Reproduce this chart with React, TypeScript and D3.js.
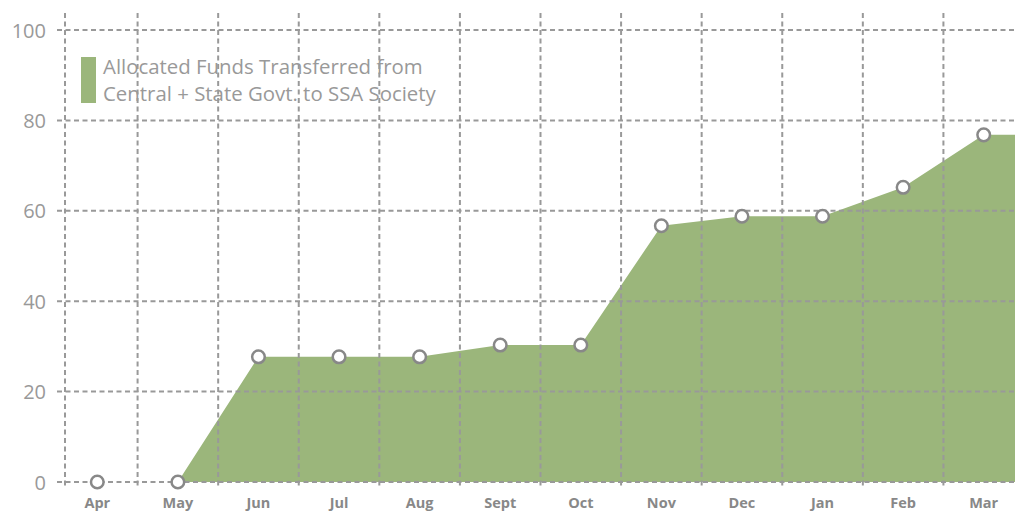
import React from "react";
import * as d3 from "d3";

const months = ["Apr", "May", "Jun", "Jul", "Aug", "Sept", "Oct", "Nov", "Dec", "Jan", "Feb", "Mar"];
const funds = [0, 0, 27.7, 27.7, 27.7, 30.3, 30.3, 56.7, 58.8, 58.8, 65.2, 76.8];
const yTicks = [0, 20, 40, 60, 80, 100];
const legendLines = ["Allocated Funds Transferred from", "Central + State Govt. to SSA Society"];

const W = 1015;
const H = 512;
const GRID = "#999999";
const GREEN = "#9bb67b";

export default function App() {
  const x = d3.scaleBand<string>().domain(months).range([57, 1024]);
  const y = d3.scaleLinear().domain([0, 100]).range([482, 30]);
  const cx = (m: string) => (x(m) as number) + x.bandwidth() / 2;

  const pts: [number, number][] = months.map((m, i) => [cx(m), y(funds[i])]);
  const areaPts: [number, number][] = [...pts, [x.range()[1], y(funds[funds.length - 1])]];
  const area = d3
    .area<[number, number]>()
    .x((d) => d[0])
    .y0(y(0))
    .y1((d) => d[1]);

  const axisX = 65;
  const gridTop = 13;
  const gridBottom = 489;
  const dash = "5,3.5";

  return (
    <svg
      width={W}
      height={H}
      style={{ position: "absolute", left: 0, top: 0, background: "#fff" }}
    >
      <path d={area(areaPts) || ""} fill={GREEN} />

      {/* vertical grid */}
      <line x1={axisX} x2={axisX} y1={gridTop} y2={gridBottom} stroke={GRID} strokeWidth={2} strokeDasharray={dash} />
      {months.slice(1).map((m) => (
        <line
          key={"v" + m}
          x1={x(m)}
          x2={x(m)}
          y1={gridTop}
          y2={gridBottom}
          stroke={GRID}
          strokeWidth={2}
          strokeDasharray={dash}
        />
      ))}

      {/* horizontal grid */}
      {yTicks.map((t) => (
        <line
          key={"h" + t}
          x1={57}
          x2={W}
          y1={y(t)}
          y2={y(t)}
          stroke={GRID}
          strokeWidth={2}
          strokeDasharray={dash}
        />
      ))}

      {/* y labels */}
      {yTicks.map((t) => (
        <text
          key={"yl" + t}
          x={46}
          y={y(t)}
          textAnchor="end"
          dominantBaseline="central"
          fontFamily="'Open Sans', sans-serif"
          fontSize={20}
          fill="#999"
        >
          {t}
        </text>
      ))}

      {/* x labels */}
      {months.map((m) => (
        <text
          key={"xl" + m}
          x={cx(m)}
          y={507.5}
          textAnchor="middle"
          fontFamily="'Open Sans', sans-serif"
          fontWeight="bold"
          fontSize={14.5}
          fill="#888"
        >
          {m}
        </text>
      ))}

      {/* points */}
      {pts.map((p, i) => (
        <circle key={"c" + i} cx={p[0]} cy={p[1]} r={6.3} fill="#fff" stroke="#888" strokeWidth={2.5} />
      ))}

      {/* legend */}
      <rect x={81} y={57} width={15} height={46} fill={GREEN} />
      {legendLines.map((l, i) => (
        <text
          key={"lg" + i}
          x={103}
          y={74 + i * 27}
          fontFamily="'Open Sans', sans-serif"
          fontSize={20.4}
          fill="#999"
        >
          {l}
        </text>
      ))}
    </svg>
  );
}
